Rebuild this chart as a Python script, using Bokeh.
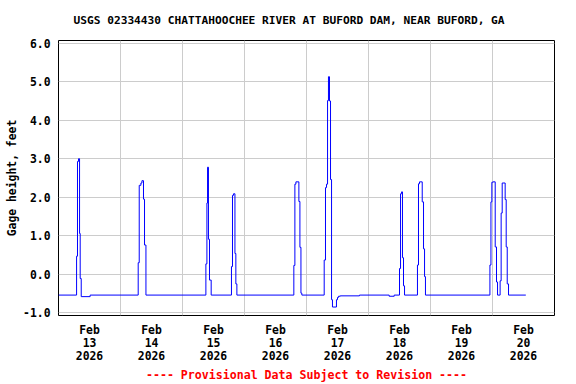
from bokeh.plotting import figure
from bokeh.models import FixedTicker, Range1d
from bokeh.embed import file_html
from bokeh.resources import INLINE

# ---------------- data ----------------
title_text = "USGS 02334430 CHATTAHOOCHEE RIVER AT BUFORD DAM, NEAR BUFORD, GA"
y_label = "Gage height, feet"
footer_text = "---- Provisional Data Subject to Revision ----"

# hours since 2026-02-13 00:00 (step changes of gage height)
hours = [0.0,
         7.0, 7.35, 7.75, 8.15, 8.4, 8.8, 12.25,
         30.85, 31.25, 31.9, 32.3, 32.9, 33.3, 33.85,
         57.05, 57.45, 57.7, 58.05, 58.45, 59.1,
         66.95, 67.35, 67.75, 68.3, 68.65, 69.05,
         91.1, 91.5, 91.9, 93.05, 93.45, 93.85, 94.2,
         102.85, 103.35, 103.75, 104.15, 104.5, 104.9, 105.3, 105.7, 106.05,
         107.6, 108.0, 108.4, 109.05, 116.5, 128.0, 129.95,
         132.0, 132.4, 132.8, 133.15, 133.55, 133.95,
         138.95, 139.35, 139.75, 140.8, 141.3, 141.7, 142.05,
         167.0, 167.4, 167.75, 168.15, 169.05, 169.55, 169.95,
         170.95, 171.35, 171.75, 172.9, 173.3, 173.7, 174.2, 180.9]
gage = [-0.54,
        0.47, 2.93, 3.00, 1.06, -0.11, -0.58, -0.54,
        0.30, 2.31, 2.37, 2.43, 1.95, 0.76, -0.54,
        0.27, 1.85, 2.78, 0.91, -0.15, -0.54,
        0.20, 2.05, 2.09, 0.54, -0.25, -0.54,
        0.23, 2.34, 2.40, 1.89, 0.70, -0.49, -0.54,
        0.37, 2.25, 2.34, 4.51, 5.13, 4.50, 2.46, -0.66, -0.85,
        -0.66, -0.60, -0.57, -0.56, -0.54, -0.57, -0.54,
        0.15, 2.09, 2.14, 0.43, -0.30, -0.54,
        0.24, 2.35, 2.40, 1.88, 0.66, -0.06, -0.54,
        0.24, 1.88, 2.39, 2.40, 0.71, -0.20, -0.54,
        -0.17, 1.59, 2.37, 1.94, 0.71, -0.25, -0.54, -0.54]

day_ticks = [12, 36, 60, 84, 108, 132, 156, 180]          # noon of each day
day_labels = ["Feb\n13\n2026", "Feb\n14\n2026", "Feb\n15\n2026", "Feb\n16\n2026",
              "Feb\n17\n2026", "Feb\n18\n2026", "Feb\n19\n2026", "Feb\n20\n2026"]
midnights = [24, 48, 72, 96, 120, 144, 168]
y_ticks = [-1, 0, 1, 2, 3, 4, 5, 6]
y_tick_labels = ["-1.0", "0.0", "1.0", "2.0", "3.0", "4.0", "5.0", "6.0"]

FONT = "DejaVu Sans Mono"

p = figure(width=576, height=384,
           x_range=Range1d(0, 192), y_range=Range1d(-1.07, 6.07),
           output_backend="svg", toolbar_location=None,
           min_border_left=58, min_border_right=22,
           min_border_top=40, min_border_bottom=68)
p.background_fill_color = "white"
p.border_fill_color = "white"
p.outline_line_color = "black"
p.outline_line_width = 1

p.step(hours, gage, mode="after", line_color="#0000ff", line_width=1)

# title
p.title.text = title_text
p.title.text_font = FONT
p.title.text_font_style = "bold"
p.title.text_font_size = "11.2px"
p.title.text_color = "black"
p.title.align = "left"
p.title.offset = 15
p.title.standoff = 24
p.title.vertical_align = "top"

# axes
for ax in (p.xaxis[0], p.yaxis[0]):
    ax.axis_line_color = None
    ax.major_tick_line_color = None
    ax.minor_tick_line_color = None
    ax.major_tick_out = 0
    ax.major_tick_in = 0
    ax.major_label_text_font = FONT
    ax.major_label_text_font_style = "bold"
    ax.major_label_text_font_size = "11.4px"
    ax.major_label_text_color = "black"

p.xaxis.ticker = FixedTicker(ticks=day_ticks)
p.xaxis.major_label_overrides = {t: l for t, l in zip(day_ticks, day_labels)}
p.xaxis.major_label_text_line_height = 0.94
p.xaxis.major_label_standoff = 7
p.xaxis.axis_label = footer_text
p.xaxis.axis_label_text_font = FONT
p.xaxis.axis_label_text_font_style = "bold"
p.xaxis.axis_label_text_font_size = "11.6px"
p.xaxis.axis_label_text_color = "#ff0000"
p.xaxis.axis_label_text_line_height = 0.9
p.xaxis.axis_label_standoff = 2

p.yaxis.ticker = FixedTicker(ticks=y_ticks)
p.yaxis.major_label_overrides = {t: l for t, l in zip(y_ticks, y_tick_labels)}
p.yaxis.major_label_standoff = 8
p.yaxis.axis_label = y_label
p.yaxis.axis_label_text_font = FONT
p.yaxis.axis_label_text_font_style = "bold"
p.yaxis.axis_label_text_font_size = "11.4px"
p.yaxis.axis_label_text_color = "black"
p.yaxis.axis_label_text_line_height = 1.0
p.yaxis.axis_label_standoff = 1

p.xgrid.ticker = FixedTicker(ticks=midnights)
p.ygrid.ticker = FixedTicker(ticks=y_ticks)
for g in (p.xgrid[0], p.ygrid[0]):
    g.grid_line_color = "#cccccc"
    g.grid_line_width = 1

open("out.html", "w").write(file_html(p, INLINE))
